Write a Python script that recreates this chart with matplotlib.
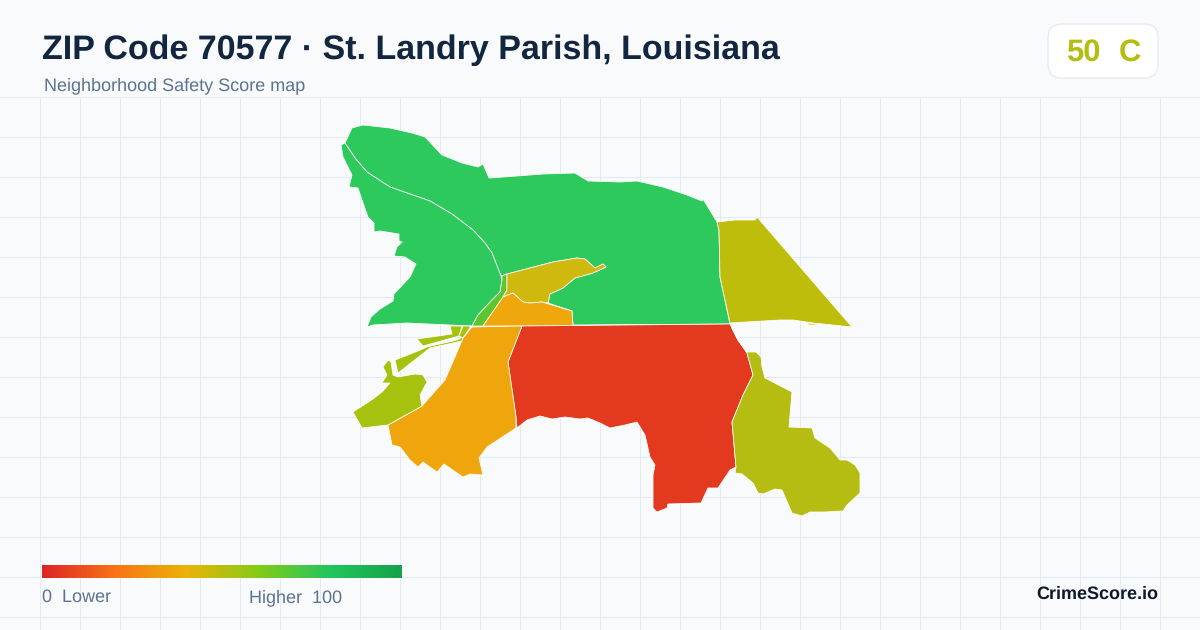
#!/usr/bin/env python3
# -*- coding: utf-8 -*-
import numpy as np
import matplotlib
matplotlib.use('Agg')
import matplotlib.pyplot as plt
from matplotlib.colors import LinearSegmentedColormap
from matplotlib.patches import FancyBboxPatch

plt.rcParams['font.family'] = ['Liberation Sans', 'DejaVu Sans']
plt.rcParams['text.hinting'] = 'no_hinting'
plt.rcParams['text.hinting_factor'] = 1

# %% Text
TitleText = 'ZIP Code 70577 · St. Landry Parish, Louisiana'
SubText = 'Neighborhood Safety Score map'
ScoreText = '50'
GradeText = 'C'
BrandText = 'CrimeScore.io'

# %% Map outlines (x, y in image pixels)
GreenNorth = [(345,143),(352,128),(363,125),(390,128),(412,133),(425,137),(442,155),(462,163),
              (478,167),(483,164),(489,178),(517,176),(543,174),(575,173),(588,181),(620,182),
              (637,181),(663,187),(687,195),(702,201),(703,199),(717,222),(719,230),(720,277),
              (730,324),(573,325),(572,311),(548,303),(550,294),(563,288),(575,278),(593,273),
              (606,267),(603,264),(595,268),(585,259),(577,258),(553,262),(507,274),(501,276),
              (492,253),(485,243),(473,230),(452,214),(430,201),(410,194),(390,187),(367,172),
              (355,158)]
GreenWest = [(345,143),(341,145),(343,157),(352,175),(349,187),(358,188),(362,200),(368,217),
             (374,223),(374,232),(380,231),(399,234),(399,241),(402,242),(397,247),(394,256),
             (405,257),(416,264),(410,277),(394,294),(393,301),(380,309),(371,317),(367,327),
             (373,325),(407,323),(450,325),(472,326),(478,315),(492,300),(500,292),(502,280),
             (501,276),(492,253),(485,243),(473,230),(452,214),(430,201),(410,194),(390,187),
             (367,172),(355,158)]
GreenSliver = [(502,276),(507,274),(507,290),(503,297),(483,326),(472,326),(478,315),(492,300),
               (500,292),(502,280)]
GoldTop = [(507,274),(553,262),(577,258),(585,259),(595,268),(603,264),(606,267),(593,273),
           (575,278),(563,288),(550,294),(548,303),(542,302),(530,303),(523,302),(513,293),
           (503,297),(507,290)]
OrangeTop = [(503,297),(513,293),(523,302),(530,303),(542,302),(572,311),(573,326),(483,326)]
RedMain = [(522,326),(730,324),(738,340),(745,350),(747,353),(753,375),(743,395),(732,422),
           (736,467),(730,470),(718,488),(708,488),(701,503),(668,504),(667,508),(657,512),
           (653,508),(653,475),(655,465),(650,457),(645,435),(637,422),(625,425),(610,428),
           (600,423),(588,418),(580,419),(565,417),(552,419),(540,416),(527,420),(517,428),
           (516,417),(508,362)]
OrangeSouth = [(472,327),(522,326),(508,362),(516,417),(516,428),(487,447),(479,458),(483,475),
               (470,474),(463,477),(444,464),(437,472),(423,462),(418,467),(410,460),(400,447),
               (392,445),(388,425),(422,406),(445,380),(455,357),(463,338)]
LimeBig = [(353,412),(373,399),(382,392),(390,383),(382,383),(387,375),(383,367),(388,360),
           (391,362),(393,375),(398,377),(415,374),(423,375),(427,382),(420,395),(422,406),
           (388,425),(362,428)]
LimeStrip = [(395,360),(418,351),(427,347),(457,340),(463,337),(462,341),(430,348),(398,373)]
LimeUpper = [(417,339),(452,334),(450,326),(462,326),(459,336),(423,346)]
LimeThin = [(463,326),(471,326),(463,338),(459,336)]
YellowEast = [(717,222),(735,220),(755,220),(757,217),(852,327),(813,323),(793,320),(780,320),
              (730,323),(720,277),(719,230)]
YellowFleck = [(808,323),(816,324),(815,325),(808,325)]
OliveSouth = [(732,328),(738,340),(747,352),(756,352),(761,357),(762,367),(765,378),(792,392),
              (789,427),(812,428),(815,438),(830,448),(840,460),(847,460),(855,465),(860,473),
              (860,493),(847,505),(843,511),(825,512),(810,512),(802,516),(792,513),(782,490),
              (775,489),(763,494),(758,493),(753,483),(742,474),(735,473),(736,467),(732,422),
              (743,395),(753,375),(747,353),(745,350),(738,340)]

Regions = [GreenNorth, GreenWest, GreenSliver, GoldTop, OrangeTop, RedMain, OrangeSouth,
           LimeBig, LimeStrip, LimeUpper, LimeThin, YellowEast, YellowFleck, OliveSouth]
RegionColors = ['#2ec95c', '#2ec95c', '#5cc62e', '#cfb90e', '#eea80b', '#e33a1f', '#eea60c',
                '#a6c20f', '#a6c20f', '#a6c20f', '#a6c20f', '#bfbd0c', '#bfbd0c', '#b5bd12']

# %% Legend colours
ScaleColors = ['#dc2626', '#f97316', '#eab308', '#84cc16', '#22c55e', '#16a34a']
ColorMap = LinearSegmentedColormap.from_list('Safety', ScaleColors, N=256)

# %% Setting up the plot
WinWidth = 1200
WinHeight = 630
DPI = 100
BgColor = '#f8fafc'
GridColor = '#e2ebf1'

fig = plt.figure(figsize=(WinWidth/DPI, WinHeight/DPI), dpi=DPI, facecolor=BgColor)
ax = fig.add_axes([0, 0, 1, 1])
ax.set_xlim(0, WinWidth)
ax.set_ylim(WinHeight, 0)
ax.axis('off')

# Background grid, only below the header
ax.vlines(np.arange(39.5, WinWidth, 40), 97, WinHeight, color=GridColor, lw=0.72, zorder=1)
ax.hlines(np.arange(96.5, WinHeight, 40), 0, WinWidth, color=GridColor, lw=0.72, zorder=1)

# Regions
for Region, Color in zip(Regions, RegionColors):
    ax.fill(*zip(*Region), facecolor=Color, edgecolor='white', lw=0.55, zorder=2, joinstyle='round')

# Header
ax.text(42, 59, TitleText, fontsize=24.5, fontweight='bold', color='#12263f', va='baseline', ha='left')
ax.text(44, 90, SubText, fontsize=12.9, color='#5b7290', va='baseline', ha='left')

# Score badge
ax.add_patch(FancyBboxPatch((1062, 38), 82, 26, boxstyle='round,pad=14,rounding_size=14',
                            facecolor='white', edgecolor='#e2e8f0', lw=0.8, zorder=3))
ax.text(1066, 61, ScoreText, fontsize=22.5, fontweight='bold', color='#b5bd12', va='baseline', ha='left', zorder=4)
ax.text(1119, 61, GradeText, fontsize=22.5, fontweight='bold', color='#b5bd12', va='baseline', ha='left', zorder=4)

# Legend bar
ax.imshow(np.linspace(0, 1, 360).reshape(1, -1), cmap=ColorMap, extent=[42, 402, 578, 565],
          aspect='auto', zorder=3)
ax.set_xlim(0, WinWidth)
ax.set_ylim(WinHeight, 0)
ax.text(42, 602, '0  Lower', fontsize=12.8, color='#5b7290', va='baseline', ha='left')
ax.text(249, 602, 'Higher  100', fontsize=12.8, color='#5b7290', va='baseline', ha='left')

# Brand
ax.text(1158, 599, BrandText, fontsize=13, fontweight='bold', color='#0f172a', va='baseline', ha='right')

fig.savefig('out.png', dpi=DPI, facecolor=BgColor)
